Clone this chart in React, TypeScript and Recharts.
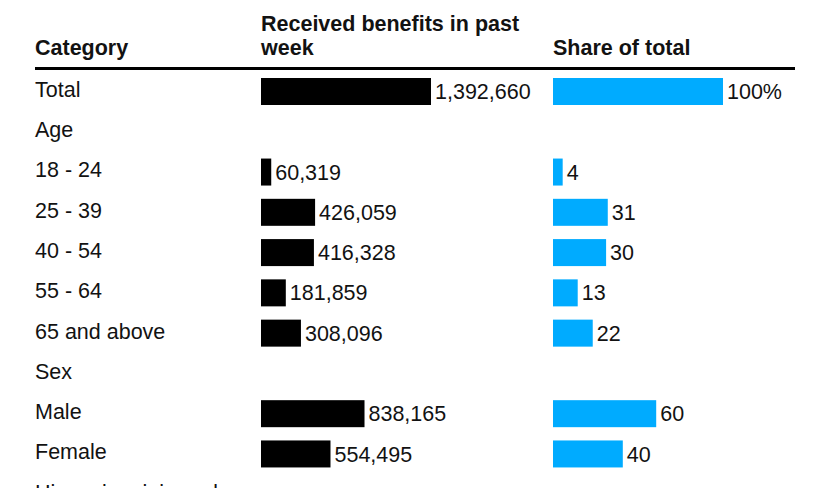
import { Bar, BarChart, LabelList, XAxis, YAxis } from "recharts";

const categories = [
  "Total",
  "Age",
  "18 - 24",
  "25 - 39",
  "40 - 54",
  "55 - 64",
  "65 and above",
  "Sex",
  "Male",
  "Female",
  "Hispanic origin and",
];
const received = [1392660, null, 60319, 426059, 416328, 181859, 308096, null, 838165, 554495, null];
const shares = [100, null, 4, 31, 30, 13, 22, null, 60, 40, null];

const headers = {
  category: "Category",
  received: ["Received benefits in past", "week"],
  share: "Share of total",
};

const data = categories.map((category, i) => ({
  category,
  received: received[i],
  receivedLabel: received[i] == null ? null : received[i]!.toLocaleString("en-US"),
  share: shares[i],
  shareLabel: shares[i] == null ? null : i === 0 ? `${shares[i]}%` : `${shares[i]}`,
}));

const FONT = "'Liberation Sans', Arial, sans-serif";
const FS = 21.5;
const INK = "#121212";
const BLUE = "#00abff";
const FULL_BAR = 167; // px for the total row, plus the 3px pad drawn by the shape
const PAD = 3;
const CHART_H = 514;
const TOP = 71;

const CategoryTick = (props: any) => {
  const { y, payload } = props;
  return (
    <text x={35} y={y} dy={5.8} fontSize={FS} fill={INK} textAnchor="start">
      {payload.value}
    </text>
  );
};

const padShape = (key: string, fill: string) => (props: any) => {
  if (props.payload?.[key] == null) return <g />;
  return <rect x={props.x} y={props.y} width={props.width + PAD} height={props.height} fill={fill} />;
};

export default function App() {
  const leftW = 545;
  const leftAxis = 261;
  const rightX = 553;
  const rightW = 834 - rightX;
  const maxReceived = ((leftW - leftAxis) * received[0]!) / FULL_BAR;
  const maxShare = (rightW * shares[0]!) / FULL_BAR;

  return (
    <div style={{ position: "relative", width: 834, height: 488, overflow: "hidden", fontFamily: FONT, background: "#fff" }}>
      <style>{`body{margin:0}`}</style>
      <svg width={834} height={80} style={{ position: "absolute", left: 0, top: 0 }}>
        <g fontSize={FS} fontWeight="bold" fill={INK}>
          <text x={35} y={54.5}>{headers.category}</text>
          <text x={261} y={30.5}>{headers.received[0]}</text>
          <text x={261} y={54.5}>{headers.received[1]}</text>
          <text x={553} y={54.5}>{headers.share}</text>
        </g>
        <rect x={35} y={67} width={760} height={3} fill="#000" />
      </svg>

      <div style={{ position: "absolute", left: 0, top: 0 }}>
        <BarChart width={leftW} height={CHART_H} data={data} layout="vertical" margin={{ top: TOP, right: 0, bottom: 0, left: 0 }}>
          <XAxis type="number" hide domain={[0, maxReceived]} />
          <YAxis
            type="category"
            dataKey="category"
            width={leftAxis}
            axisLine={false}
            tickLine={false}
            interval={0}
            tick={CategoryTick}
          />
          <Bar dataKey="received" barSize={27} isAnimationActive={false} shape={padShape("received", "#000")}>
            <LabelList dataKey="receivedLabel" position="right" offset={4 + PAD} fontSize={FS} fill={INK} />
          </Bar>
        </BarChart>
      </div>

      <div style={{ position: "absolute", left: rightX, top: 0 }}>
        <BarChart width={rightW} height={CHART_H} data={data} layout="vertical" margin={{ top: TOP, right: 0, bottom: 0, left: 0 }}>
          <XAxis type="number" hide domain={[0, maxShare]} />
          <YAxis type="category" dataKey="category" hide width={0} />
          <Bar dataKey="share" barSize={27} isAnimationActive={false} shape={padShape("share", BLUE)}>
            <LabelList dataKey="shareLabel" position="right" offset={4 + PAD} fontSize={FS} fill={INK} />
          </Bar>
        </BarChart>
      </div>
    </div>
  );
}
